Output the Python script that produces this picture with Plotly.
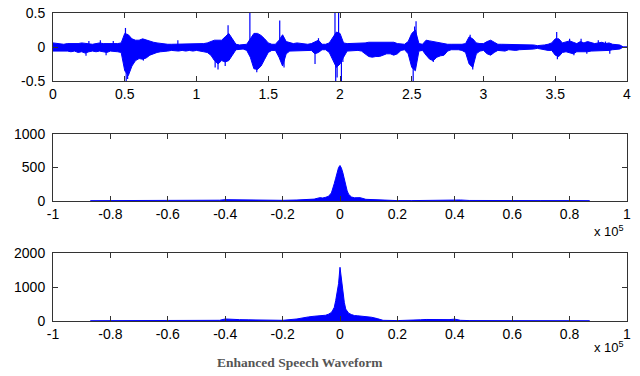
import numpy as np
import plotly.graph_objects as go

# ---------------- data ----------------
# speech waveform envelope, sampled every 0.025 s from 0 to 4 s
wave_t = np.round(np.arange(161) * 0.025, 3)
wave_up = [
    0.06, 0.05, 0.05, 0.04, 0.05, 0.05, 0.04, 0.05, 0.06, 0.05, 0.05, 0.04, 0.05, 0.06, 0.05, 0.05, 0.05, 0.04, 0.05, 0.06,
    0.20, 0.18, 0.12, 0.10, 0.10, 0.12, 0.10, 0.08, 0.07, 0.06, 0.05, 0.05, 0.04, 0.04, 0.04, 0.05, 0.04, 0.05, 0.04, 0.04,
    0.04, 0.05, 0.05, 0.06, 0.08, 0.10, 0.10, 0.10, 0.15, 0.20, 0.12, 0.04, 0.03, 0.03, 0.04, 0.12, 0.20, 0.20, 0.17, 0.12,
    0.06, 0.04, 0.04, 0.10, 0.18, 0.08, 0.06, 0.05, 0.06, 0.05, 0.05, 0.04, 0.05, 0.08, 0.10, 0.04, 0.04, 0.06, 0.15, 0.22,
    0.20, 0.06, 0.05, 0.05, 0.05, 0.05, 0.05, 0.06, 0.07, 0.07, 0.07, 0.07, 0.06, 0.06, 0.07, 0.07, 0.05, 0.04, 0.04, 0.08,
    0.20, 0.25, 0.05, 0.04, 0.10, 0.09, 0.08, 0.06, 0.05, 0.05, 0.04, 0.04, 0.04, 0.03, 0.04, 0.05, 0.15, 0.12, 0.06, 0.05,
    0.05, 0.08, 0.10, 0.07, 0.04, 0.04, 0.04, 0.04, 0.03, 0.04, 0.03, 0.04, 0.03, 0.03, 0.03, 0.02, 0.02, 0.03, 0.04, 0.06,
    0.12, 0.12, 0.06, 0.08, 0.09, 0.07, 0.05, 0.08, 0.06, 0.08, 0.06, 0.05, 0.06, 0.07, 0.05, 0.06, 0.04, 0.04, 0.03, 0.00,
    0.00,
]
wave_lo = [
    0.06, 0.06, 0.07, 0.06, 0.06, 0.07, 0.06, 0.08, 0.07, 0.09, 0.07, 0.06, 0.07, 0.06, 0.07, 0.08, 0.06, 0.06, 0.07, 0.08,
    0.35, 0.42, 0.28, 0.20, 0.17, 0.18, 0.16, 0.12, 0.10, 0.08, 0.07, 0.06, 0.06, 0.05, 0.05, 0.06, 0.05, 0.06, 0.05, 0.06,
    0.05, 0.06, 0.07, 0.08, 0.12, 0.20, 0.25, 0.20, 0.22, 0.20, 0.12, 0.04, 0.03, 0.03, 0.05, 0.15, 0.32, 0.33, 0.28, 0.18,
    0.08, 0.05, 0.05, 0.15, 0.28, 0.10, 0.06, 0.05, 0.06, 0.06, 0.05, 0.05, 0.05, 0.10, 0.08, 0.04, 0.04, 0.08, 0.20, 0.30,
    0.25, 0.15, 0.06, 0.05, 0.05, 0.05, 0.06, 0.10, 0.14, 0.15, 0.14, 0.14, 0.12, 0.10, 0.10, 0.12, 0.10, 0.05, 0.04, 0.10,
    0.30, 0.35, 0.06, 0.05, 0.12, 0.18, 0.20, 0.15, 0.13, 0.12, 0.06, 0.04, 0.04, 0.04, 0.05, 0.08, 0.25, 0.30, 0.10, 0.06,
    0.05, 0.10, 0.12, 0.08, 0.05, 0.05, 0.06, 0.04, 0.04, 0.05, 0.04, 0.04, 0.04, 0.03, 0.03, 0.02, 0.02, 0.04, 0.05, 0.05,
    0.12, 0.14, 0.08, 0.07, 0.08, 0.10, 0.07, 0.08, 0.07, 0.07, 0.06, 0.06, 0.05, 0.06, 0.05, 0.05, 0.04, 0.03, 0.03, 0.00,
    0.00,
]
# isolated waveform spikes: time (s) and peak value
spike_t = [0.23, 0.25, 0.33, 0.37, 0.42, 0.505, 0.51, 0.52, 0.63, 0.87, 1.13, 1.15, 1.20, 1.22, 1.372, 1.42,
           1.58, 1.61, 1.826, 1.85, 1.965, 1.97, 1.98, 1.99, 2.01, 2.02, 2.51, 2.52, 2.53, 2.65, 2.907, 2.925,
           3.51, 3.515, 3.60, 3.63, 3.68, 3.72, 3.80, 3.85, 3.88]
spike_v = [-0.13, 0.09, 0.10, -0.12, 0.09, 0.28, -0.50, -0.47, -0.20, 0.10, -0.30, -0.33, -0.28, 0.32, 0.55, -0.37,
           0.39, -0.30, -0.25, 0.13, 0.55, -0.50, -0.45, 0.55, -0.50, -0.22, -0.50, 0.30, 0.38, -0.22, 0.18, -0.33,
           0.22, -0.18, 0.12, -0.12, 0.12, -0.10, 0.10, 0.08, -0.10]

# magnitude spectra (frequency in Hz)
spec_f = [-0.87e5, -0.8e5, -0.7e5, -0.6e5, -0.5e5, -0.45e5, -0.42e5, -0.4e5, -0.38e5, -0.35e5, -0.32e5, -0.3e5,
          -0.28e5, -0.25e5, -0.2e5, -0.15e5, -0.13e5, -0.11e5, -0.09e5, -0.07e5, -0.06e5, -0.05e5, -0.04e5,
          -0.03e5, -0.025e5, -0.02e5, -0.015e5, -0.01e5, -0.005e5, 0.0, 0.005e5, 0.01e5, 0.015e5, 0.02e5,
          0.025e5, 0.03e5, 0.04e5, 0.05e5, 0.06e5, 0.07e5, 0.09e5, 0.11e5, 0.13e5, 0.15e5, 0.2e5, 0.25e5,
          0.28e5, 0.3e5, 0.32e5, 0.35e5, 0.38e5, 0.4e5, 0.42e5, 0.45e5, 0.5e5, 0.6e5, 0.7e5, 0.8e5, 0.87e5]
spec_noisy = [5, 6, 6, 7, 7, 8, 12, 20, 18, 22, 18, 12,
              10, 8, 10, 15, 22, 30, 28, 50, 45, 55, 70,
              120, 180, 260, 340, 430, 500, 530, 490, 420, 320, 220,
              150, 100, 60, 48, 45, 50, 25, 20, 18, 8, 6, 6,
              8, 12, 15, 18, 15, 20, 15, 8, 6, 6, 6, 6, 5]
spec_enh = [8, 9, 10, 10, 10, 12, 20, 60, 45, 40, 35, 30,
            25, 15, 20, 60, 100, 120, 140, 150, 160, 170, 200,
            250, 320, 400, 600, 800, 1100, 1580, 1200, 850, 550, 350,
            280, 230, 190, 160, 155, 150, 130, 110, 70, 20, 12, 15,
            35, 45, 40, 45, 40, 55, 20, 12, 10, 10, 10, 9, 8]

x1_ticks = [0, 0.5, 1, 1.5, 2, 2.5, 3, 3.5, 4]
x1_text = ["0", "0.5", "1", "1.5", "2", "2.5", "3", "3.5", "4"]
y1_ticks = [-0.5, 0, 0.5]
y1_text = ["-0.5", "0", "0.5"]
xf_ticks = [-1e5, -0.8e5, -0.6e5, -0.4e5, -0.2e5, 0, 0.2e5, 0.4e5, 0.6e5, 0.8e5, 1e5]
xf_text = ["-1", "-0.8", "-0.6", "-0.4", "-0.2", "0", "0.2", "0.4", "0.6", "0.8", "1"]
y2_ticks = [0, 500, 1000]
y3_ticks = [0, 1000, 2000]

BLUE = "#0000ff"

# ---------------- figure ----------------
fig = go.Figure()

tt = list(wave_t)
fig.add_trace(go.Scatter(
    x=tt + tt[::-1], y=list(wave_up) + [-v for v in wave_lo][::-1],
    fill="toself", fillcolor=BLUE, mode="lines", line=dict(color=BLUE, width=1),
    xaxis="x", yaxis="y", hoverinfo="skip"))
sx, sy = [], []
for t, v in zip(spike_t, spike_v):
    sx += [t, t, None]
    sy += [0, v, None]
fig.add_trace(go.Scatter(x=sx, y=sy, mode="lines", line=dict(color=BLUE, width=1.2),
                         xaxis="x", yaxis="y", hoverinfo="skip"))

fig.add_trace(go.Scatter(x=spec_f, y=spec_noisy, fill="tozeroy", fillcolor=BLUE, mode="lines",
                         line=dict(color=BLUE, width=1), xaxis="x2", yaxis="y2"))
fig.add_trace(go.Scatter(x=spec_f, y=spec_enh, fill="tozeroy", fillcolor=BLUE, mode="lines",
                         line=dict(color=BLUE, width=1), xaxis="x3", yaxis="y3"))

W, H = 640, 376


def px(p):
    return p / W


def py(p):
    return 1 - p / H


xd = [px(53), px(627)]


def ydom(top, bot):
    return [py(bot), py(top)]


ax = dict(showline=True, linecolor="#333333", linewidth=1, mirror="ticks", ticks="inside",
          ticklen=5, tickcolor="#333333", showgrid=False, zeroline=False, automargin=False,
          ticklabeloverflow="allow",
          tickfont=dict(family="Liberation Sans, Arial, sans-serif", size=14, color="black"))

fig.update_layout(
    width=W, height=H, margin=dict(l=0, r=0, t=0, b=0, autoexpand=False),
    paper_bgcolor="white", plot_bgcolor="white", showlegend=False,
    xaxis=dict(ax, domain=xd, anchor="y", range=[0, 4], tickvals=x1_ticks, ticktext=x1_text),
    yaxis=dict(ax, domain=ydom(13, 81), anchor="x", range=[-0.5, 0.5], tickvals=y1_ticks,
               ticktext=y1_text, ticklabelstandoff=4),
    xaxis2=dict(ax, domain=xd, anchor="y2", range=[-1e5, 1e5], tickvals=xf_ticks, ticktext=xf_text),
    yaxis2=dict(ax, domain=ydom(134, 201), anchor="x2", range=[0, 1000], tickvals=y2_ticks,
                ticktext=[str(v) for v in y2_ticks], ticklabelstandoff=4),
    xaxis3=dict(ax, domain=xd, anchor="y3", range=[-1e5, 1e5], tickvals=xf_ticks, ticktext=xf_text),
    yaxis3=dict(ax, domain=ydom(253, 321), anchor="x3", range=[0, 2000], tickvals=y3_ticks,
                ticktext=[str(v) for v in y3_ticks], ticklabelstandoff=4),
    annotations=[
        dict(text="x 10<sup>5</sup>", xref="paper", yref="paper", x=px(626), y=py(231),
             xanchor="right", yanchor="middle", showarrow=False,
             font=dict(family="Liberation Sans, Arial, sans-serif", size=13, color="black")),
        dict(text="x 10<sup>5</sup>", xref="paper", yref="paper", x=px(626), y=py(347),
             xanchor="right", yanchor="middle", showarrow=False,
             font=dict(family="Liberation Sans, Arial, sans-serif", size=13, color="black")),
        dict(text="<b>Enhanced Speech Waveform</b>", xref="paper", yref="paper", x=px(300), y=py(362),
             xanchor="center", yanchor="middle", showarrow=False,
             font=dict(family="Liberation Serif, Times New Roman, serif", size=13.5, color="#555555")),
    ],
)

# remove the browser's default 8px body margin so the figure fills the window exactly
fig.write_html("out.html", config={"displayModeBar": False},
               post_script="document.body.style.margin='0';")
